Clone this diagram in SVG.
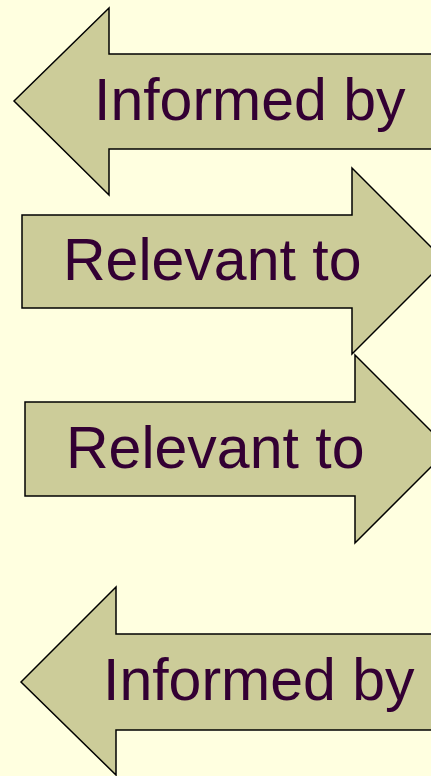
<svg xmlns="http://www.w3.org/2000/svg" width="431" height="776" viewBox="0 0 431 776">
  <style>
    .arrow { fill: #CCCC99; stroke: #000000; stroke-width: 1.5; stroke-linejoin: miter; }
    .label { font-family: "Liberation Sans", Arial, sans-serif; font-size: 59px; fill: #330033; }
  </style>
  <rect width="431" height="776" fill="#FFFFE0"/>

  <g id="informed-by-top">
    <polygon class="arrow" points="14,101 109,8 109,54 440,54 440,149 109,149 109,195"/>
    <text class="label" x="94" y="120">Informed by</text>
  </g>

  <g id="relevant-to-upper">
    <polygon class="arrow" points="22,215 352,215 352,168 445,261 352,354 352,308 22,308"/>
    <text class="label" x="63" y="280">Relevant to</text>
  </g>

  <g id="relevant-to-lower">
    <polygon class="arrow" points="25,402 355,402 355,355 449,449 355,543 355,496 25,496"/>
    <text class="label" x="66" y="468">Relevant to</text>
  </g>

  <g id="informed-by-bottom">
    <polygon class="arrow" points="21,682 116,587 116,634 440,634 440,730 116,730 116,775"/>
    <text class="label" x="103" y="700">Informed by</text>
  </g>
</svg>
